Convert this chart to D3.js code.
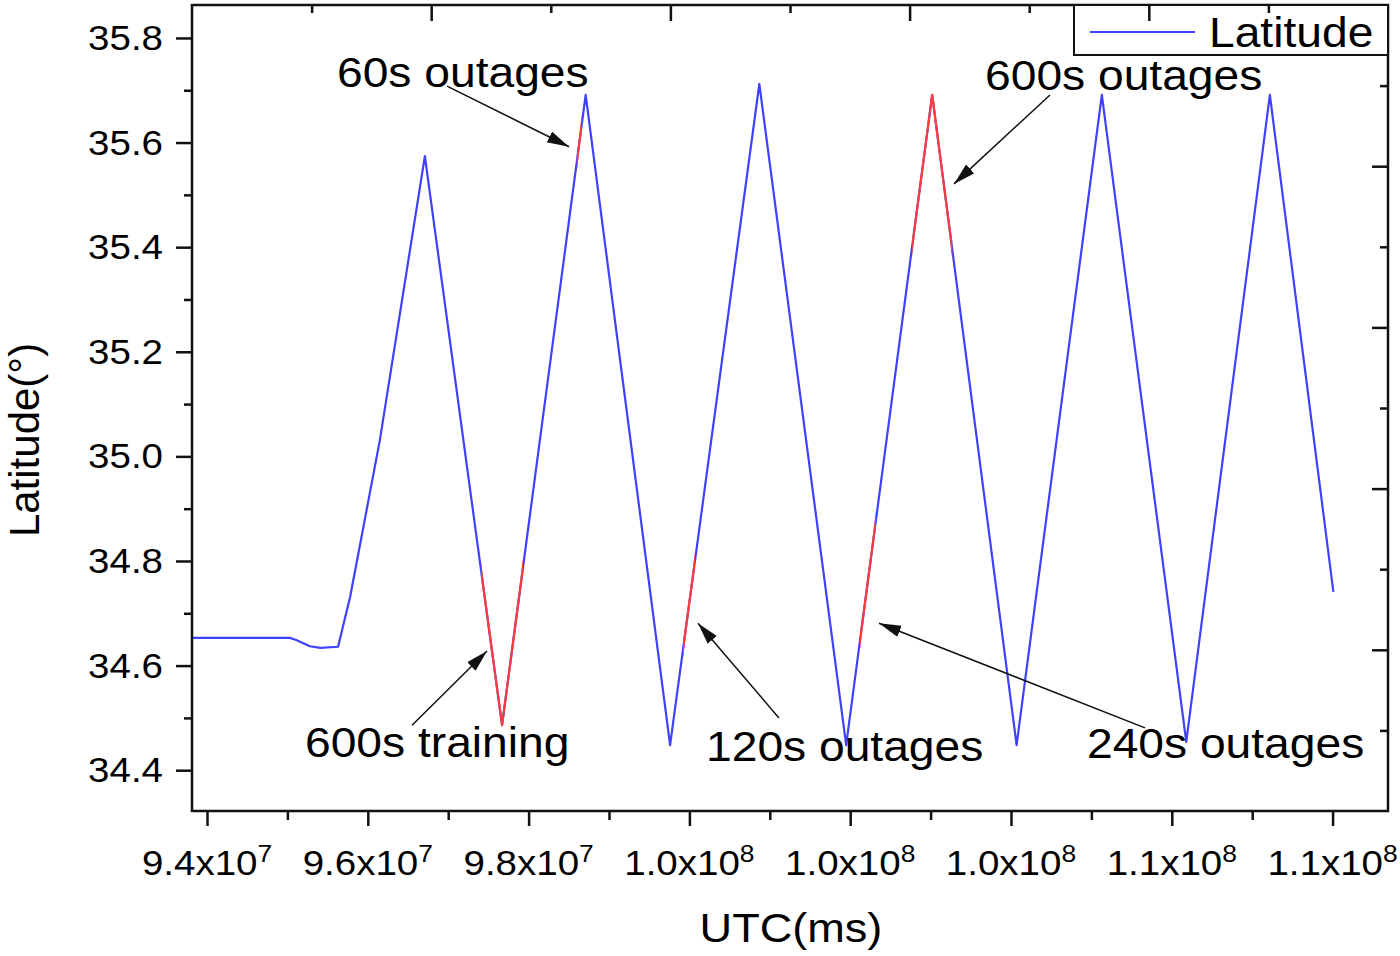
<!DOCTYPE html>
<html>
<head>
<meta charset="utf-8">
<script src="https://cdn.jsdelivr.net/npm/d3@7/dist/d3.min.js"></script>
<style>
body { margin: 0; background: #fff; }
svg text { font-family: "Liberation Sans", Arial, sans-serif; fill: #000; }
</style>
</head>
<body>
<svg id="chart" width="1400" height="956"></svg>
<script>
// latitude track, UTC in ms
var utc = [93.82e6, 95.03e6, 95.11e6, 95.28e6, 95.41e6, 95.63e6, 95.78e6,
    96.15e6, 96.71e6, 97.67e6, 98.71e6, 99.76e6, 100.87e6,
    101.95e6, 103.02e6, 104.07e6, 105.13e6, 106.18e6, 107.22e6, 108.01e6];
var latitude = [34.653, 34.653, 34.649, 34.637, 34.634, 34.636, 34.731,
    35.031, 35.574, 34.486, 35.691, 34.448, 35.712,
    34.448, 35.691, 34.448, 35.691, 34.454, 35.691, 34.741];

// red parts: training window and GPS outages [start, end]
var outageStart = [97.41e6, 98.60e6, 99.92e6, 102.12e6, 102.77e6];
var outageEnd   = [97.93e6, 98.66e6, 100.07e6, 102.32e6, 103.27e6];

var xTicks = [94e6, 96e6, 98e6, 100e6, 102e6, 104e6, 106e6, 108e6];
var xMinorTicks = [95e6, 97e6, 99e6, 101e6, 103e6, 105e6, 107e6];
var xTickMantissa = ["9.4", "9.6", "9.8", "1.0", "1.0", "1.0", "1.1", "1.1"];
var xTickExponent = ["7", "7", "7", "8", "8", "8", "8", "8"];

var yTicks = [34.4, 34.6, 34.8, 35.0, 35.2, 35.4, 35.6, 35.8];
var yMinorTicks = [34.5, 34.7, 34.9, 35.1, 35.3, 35.5, 35.7];
var yTickLabels = ["34.4", "34.6", "34.8", "35.0", "35.2", "35.4", "35.6", "35.8"];

// annotation text anchor + arrow tail/tip, in data units
var noteLabels = ["60s outages", "600s outages", "600s training", "120s outages", "240s outages"];
var noteTextT = [95.617e6, 103.677e6, 95.219e6, 100.207e6, 104.945e6];
var noteTextLat = [35.706, 35.701, 34.425, 34.418, 34.423];
var arrowFromT = [96.985e6, 104.485e6, 96.550e6, 101.114e6, 105.667e6];
var arrowFromLat = [35.708, 35.691, 34.486, 34.500, 34.481];
var arrowToT = [98.503e6, 103.291e6, 97.483e6, 100.107e6, 102.358e6];
var arrowToLat = [35.592, 35.521, 34.628, 34.681, 34.681];

var svg = d3.select("#chart"),
    pLeft = 192, pRight = 1388, pTop = 5, pBottom = 811;

var x = d3.scaleLinear().domain([93.8134e6, 108.6893e6]).range([pLeft, pRight]);
var y = d3.scaleLinear().domain([34.322, 35.863]).range([pBottom, pTop]);

var stretch = 1.1;
function label(g, px, py, str, size, anchor) {
    return g.append("text")
        .attr("transform", "translate(" + px + "," + py + ") scale(" + stretch + ",1)")
        .attr("text-anchor", anchor || "start")
        .style("font-size", size + "px")
        .text(str);
}

var pts = utc.map(function (t, i) { return [t, latitude[i]]; });
var line = d3.line()
    .x(function (d) { return x(d[0]); })
    .y(function (d) { return y(d[1]); });

var defs = svg.append("defs");
defs.selectAll("clipPath")
    .data(outageStart)
    .enter().append("clipPath")
    .attr("id", function (d, i) { return "out" + i; })
    .append("rect")
    .attr("x", function (d) { return x(d); })
    .attr("width", function (d, i) { return x(outageEnd[i]) - x(d); })
    .attr("y", pTop)
    .attr("height", pBottom - pTop);

defs.append("marker")
    .attr("id", "head")
    .attr("markerUnits", "userSpaceOnUse")
    .attr("markerWidth", 24)
    .attr("markerHeight", 14)
    .attr("refX", 22)
    .attr("refY", 6)
    .attr("orient", "auto")
    .append("path")
    .attr("d", "M0,0 L22,6 L0,12 Z")
    .attr("fill", "#111");

svg.append("path")
    .datum(pts)
    .attr("d", line)
    .attr("fill", "none")
    .attr("stroke", "#4040ff")
    .attr("stroke-width", 2.2)
    .attr("stroke-linejoin", "round");

svg.selectAll(".outage")
    .data(outageStart)
    .enter().append("path")
    .attr("class", "outage")
    .attr("d", line(pts))
    .attr("clip-path", function (d, i) { return "url(#out" + i + ")"; })
    .attr("fill", "none")
    .attr("stroke", "#ff3b3b")
    .attr("stroke-width", 2.2)
    .attr("stroke-linejoin", "round");

// frame
svg.append("rect")
    .attr("x", pLeft).attr("y", pTop)
    .attr("width", pRight - pLeft).attr("height", pBottom - pTop)
    .attr("fill", "none")
    .attr("stroke", "#111")
    .attr("stroke-width", 2.5);

function ticks(g) {
    g.select(".domain").remove();
    g.selectAll("line").attr("stroke", "#111").attr("stroke-width", 2.5);
}

svg.append("g")
    .attr("transform", "translate(0," + pBottom + ")")
    .call(d3.axisBottom(x).tickValues(xTicks).tickSize(15).tickFormat(""))
    .call(ticks);
svg.append("g")
    .attr("transform", "translate(0," + pBottom + ")")
    .call(d3.axisBottom(x).tickValues(xMinorTicks).tickSize(9).tickFormat(""))
    .call(ticks);
svg.append("g")
    .attr("transform", "translate(" + pLeft + ",0)")
    .call(d3.axisLeft(y).tickValues(yTicks).tickSize(16).tickFormat(""))
    .call(ticks);
svg.append("g")
    .attr("transform", "translate(" + pLeft + ",0)")
    .call(d3.axisLeft(y).tickValues(yMinorTicks).tickSize(8).tickFormat(""))
    .call(ticks);

// legend
var lg = svg.append("g");
lg.append("rect")
    .attr("x", 1074).attr("y", pTop)
    .attr("width", pRight - 1074).attr("height", 50)
    .attr("fill", "#fff")
    .attr("stroke", "#111")
    .attr("stroke-width", 2);
lg.append("line")
    .attr("x1", 1090).attr("x2", 1195)
    .attr("y1", 32).attr("y2", 32)
    .attr("stroke", "#4040ff")
    .attr("stroke-width", 2.2);
label(lg, 1209, 47, "Latitude", 42);

// unlabeled top / right frame ticks (inward)
var topScale = d3.scaleLinear().domain([0, 10]).range([pLeft, pRight]);
var rightScale = d3.scaleLinear().domain([0, 10]).range([pBottom, pTop]);
svg.append("g")
    .attr("transform", "translate(0," + pTop + ")")
    .call(d3.axisTop(topScale).tickValues([2, 4, 6, 8]).tickSize(-16).tickFormat(""))
    .call(ticks);
svg.append("g")
    .attr("transform", "translate(0," + pTop + ")")
    .call(d3.axisTop(topScale).tickValues([1, 3, 5, 7, 9]).tickSize(-8).tickFormat(""))
    .call(ticks);
svg.append("g")
    .attr("transform", "translate(" + pRight + ",0)")
    .call(d3.axisRight(rightScale).tickValues([2, 4, 6, 8]).tickSize(-16).tickFormat(""))
    .call(ticks);
svg.append("g")
    .attr("transform", "translate(" + pRight + ",0)")
    .call(d3.axisRight(rightScale).tickValues([1, 3, 5, 7, 9]).tickSize(-8).tickFormat(""))
    .call(ticks);

// tick labels
yTicks.forEach(function (v, i) {
    label(svg, 163, y(v) + 12, yTickLabels[i], 35, "end");
});
xTicks.forEach(function (v, i) {
    var t = svg.append("text")
        .attr("transform", "translate(" + x(v) + ",875) scale(" + stretch + ",1)")
        .attr("text-anchor", "middle")
        .style("font-size", "35px");
    t.append("tspan").text(xTickMantissa[i] + "x10");
    t.append("tspan").attr("dy", -13).style("font-size", "24px").text(xTickExponent[i]);
});

// axis titles
label(svg, 791, 942, "UTC(ms)", 41, "middle");
svg.append("text")
    .attr("transform", "translate(39,440) rotate(-90)")
    .attr("text-anchor", "middle")
    .style("font-size", "42px")
    .text("Latitude(°)");

// annotations
noteLabels.forEach(function (s, i) {
    label(svg, x(noteTextT[i]), y(noteTextLat[i]), s, 42);
    svg.append("line")
        .attr("x1", x(arrowFromT[i])).attr("y1", y(arrowFromLat[i]))
        .attr("x2", x(arrowToT[i])).attr("y2", y(arrowToLat[i]))
        .attr("stroke", "#111")
        .attr("stroke-width", 1.5)
        .attr("marker-end", "url(#head)");
});
</script>
</body>
</html>
